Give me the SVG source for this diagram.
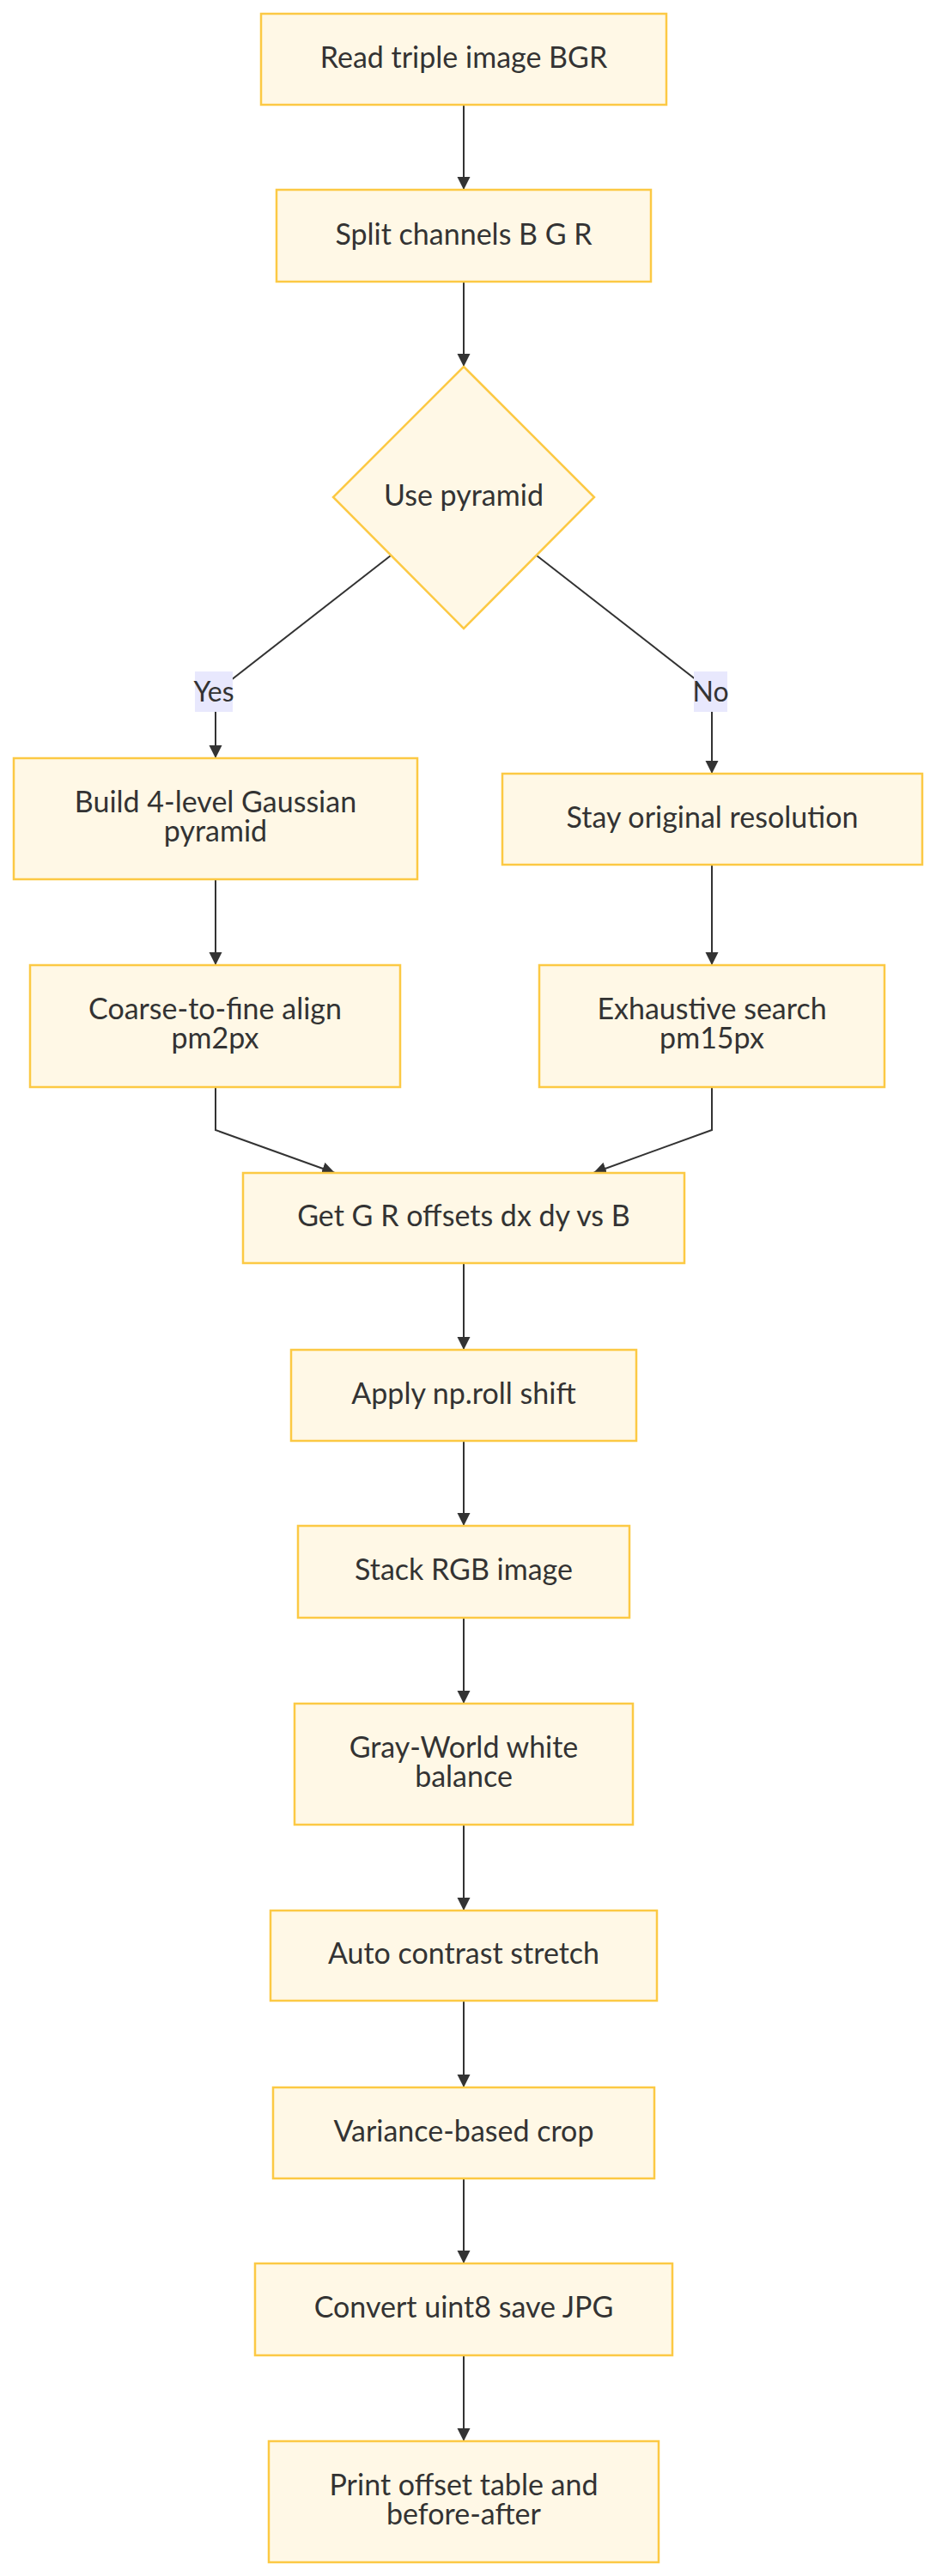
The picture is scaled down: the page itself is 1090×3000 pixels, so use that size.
<svg xmlns="http://www.w3.org/2000/svg" width="1090" height="3000" viewBox="0 0 1090 3000">
<style>
.node rect, .node polygon { fill: #fff8e6; stroke: #fcc944; stroke-width: 2.5; }
.node text { font-family: Lato, "Liberation Sans", sans-serif; font-size: 34px; fill: #333333; text-anchor: middle; }
.edge { fill: none; stroke: #333333; stroke-width: 2; }
.lbl rect { fill: #e8e8fd; }
.lbl text { font-family: Lato, "Liberation Sans", sans-serif; font-size: 32px; fill: #333333; text-anchor: middle; }
</style>
<defs>
<marker id="ah" viewBox="0 0 10 10" refX="10" refY="5" markerUnits="userSpaceOnUse" markerWidth="15" markerHeight="16" orient="auto">
<path d="M0,0 L10,5 L0,10 z" fill="#333333"/>
</marker>
</defs>
<rect x="0" y="0" width="1090" height="3000" fill="#ffffff"/>
<g id="connectors">
<path class="edge" d="M540,122 L540,221" marker-end="url(#ah)"/>
<path class="edge" d="M540,328 L540,427" marker-end="url(#ah)"/>
<path class="edge" d="M455,647 L251,806 L251,883" marker-end="url(#ah)"/>
<path class="edge" d="M625,647 L829,806 L829,901" marker-end="url(#ah)"/>
<path class="edge" d="M251,1024 L251,1124" marker-end="url(#ah)"/>
<path class="edge" d="M829,1007 L829,1124" marker-end="url(#ah)"/>
<path class="edge" d="M251,1266 L251,1316 L390,1366" marker-end="url(#ah)"/>
<path class="edge" d="M829,1266 L829,1316 L691,1366" marker-end="url(#ah)"/>
<path class="edge" d="M540,1471 L540,1572" marker-end="url(#ah)"/>
<path class="edge" d="M540,1678 L540,1777" marker-end="url(#ah)"/>
<path class="edge" d="M540,1884 L540,1984" marker-end="url(#ah)"/>
<path class="edge" d="M540,2125 L540,2225" marker-end="url(#ah)"/>
<path class="edge" d="M540,2330 L540,2431" marker-end="url(#ah)"/>
<path class="edge" d="M540,2537 L540,2636" marker-end="url(#ah)"/>
<path class="edge" d="M540,2743 L540,2843" marker-end="url(#ah)"/>
</g>
<g id="label-yes" class="lbl"><rect x="227" y="782" width="44" height="47"/><text x="249" y="817">Yes</text></g>
<g id="label-no" class="lbl"><rect x="808" y="782" width="39" height="47"/><text x="827.5" y="817">No</text></g>
<g id="n1" class="node"><rect x="304" y="16" width="472" height="106"/><text x="540" y="79">Read triple image BGR</text></g>
<g id="n2" class="node"><rect x="322" y="221" width="436" height="107"/><text x="540" y="285">Split channels B G R</text></g>
<g id="n3" class="node"><polygon points="540,427 692,579 540,732 388,579"/><text x="540" y="589">Use pyramid</text></g>
<g id="n4" class="node"><rect x="16" y="883" width="470" height="141"/><text x="251" y="946">Build 4-level Gaussian</text><text x="251" y="980">pyramid</text></g>
<g id="n5" class="node"><rect x="585" y="901" width="489" height="106"/><text x="829.5" y="964">Stay original resolution</text></g>
<g id="n6" class="node"><rect x="35" y="1124" width="431" height="142"/><text x="250.5" y="1187">Coarse-to-fine align</text><text x="250.5" y="1221">pm2px</text></g>
<g id="n7" class="node"><rect x="628" y="1124" width="402" height="142"/><text x="829" y="1187">Exhaustive search</text><text x="829" y="1221">pm15px</text></g>
<g id="n8" class="node"><rect x="283" y="1366" width="514" height="105"/><text x="540" y="1428">Get G R offsets dx dy vs B</text></g>
<g id="n9" class="node"><rect x="339" y="1572" width="402" height="106"/><text x="540" y="1635">Apply np.roll shift</text></g>
<g id="n10" class="node"><rect x="347" y="1777" width="386" height="107"/><text x="540" y="1840">Stack RGB image</text></g>
<g id="n11" class="node"><rect x="343" y="1984" width="394" height="141"/><text x="540" y="2047">Gray-World white</text><text x="540" y="2081">balance</text></g>
<g id="n12" class="node"><rect x="315" y="2225" width="450" height="105"/><text x="540" y="2287">Auto contrast stretch</text></g>
<g id="n13" class="node"><rect x="318" y="2431" width="444" height="106"/><text x="540" y="2494">Variance-based crop</text></g>
<g id="n14" class="node"><rect x="297" y="2636" width="486" height="107"/><text x="540" y="2699">Convert uint8 save JPG</text></g>
<g id="n15" class="node"><rect x="313" y="2843" width="454" height="141"/><text x="540" y="2906">Print offset table and</text><text x="540" y="2940">before-after</text></g>
</svg>
